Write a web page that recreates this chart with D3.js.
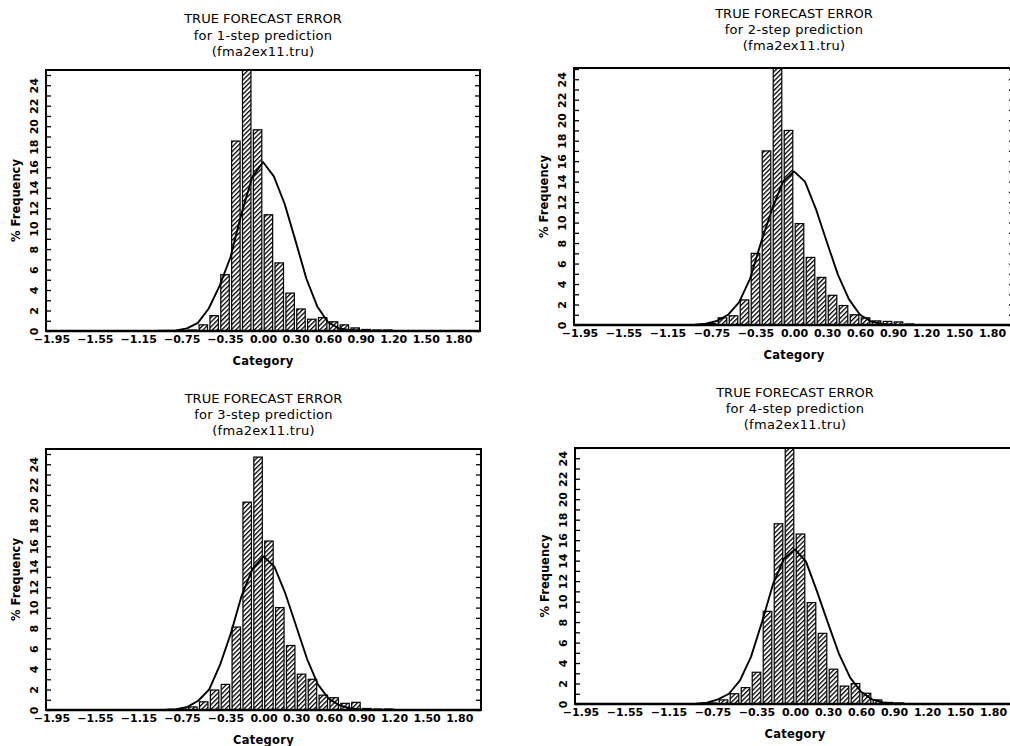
<!DOCTYPE html>
<html>
<head>
<meta charset="utf-8">
<script src="https://cdn.jsdelivr.net/npm/d3@7"></script>
<style>
  body { margin: 0; background: #fff; }
  svg { display: block; }
  text { font-family: "DejaVu Sans", sans-serif; fill: #000; }
</style>
</head>
<body>
<svg id="chart" width="1010" height="746"></svg>
<script>
"use strict";

// bin midpoints (width 0.1) and % frequency of each of the 4 histograms
var binMids = [-0.75, -0.65, -0.55, -0.45, -0.35, -0.25, -0.15, -0.05, 0.05, 0.15,
               0.25, 0.35, 0.45, 0.55, 0.65, 0.75, 0.85, 0.95, 1.05, 1.15];
var freq1 = [0.05, 0.1, 0.6, 1.5, 5.5, 18.55, 26, 19.65, 11.35, 6.65,
             3.7, 2.15, 1.15, 1.3, 0.9, 0.6, 0.3, 0.15, 0.1, 0.1];
var freq2 = [0.15, 0.7, 0.9, 2.45, 7.0, 17.0, 26, 19.0, 9.9, 6.6,
             4.65, 2.9, 1.9, 1.0, 0.7, 0.4, 0.35, 0.3, 0.1, 0];
var freq3 = [0.1, 0.3, 0.8, 1.95, 2.5, 8.1, 20.3, 24.7, 16.5, 10.0,
             6.3, 3.5, 3.0, 1.45, 1.2, 0.65, 0.75, 0.15, 0.1, 0.1];
var freq4 = [0.1, 0.4, 1.0, 1.6, 3.1, 9.05, 17.6, 26, 16.6, 9.9,
             6.9, 3.4, 1.75, 2.0, 1.05, 0.4, 0.15, 0.1, 0, 0];

// fitted normal curve
var curveX = [-2.0, -1.0, -0.9, -0.8, -0.7, -0.6, -0.5, -0.4, -0.3, -0.2, -0.1, 0.0,
              0.1, 0.2, 0.3, 0.4, 0.5, 0.6, 0.7, 0.8, 0.9, 1.0, 2.0];
var curve1 = [0, 0, 0.02, 0.05, 0.25, 0.8, 2.2, 4.4, 7.2, 11.4, 15.0, 16.5,
              15.1, 12.4, 8.8, 5.1, 2.4, 0.85, 0.25, 0.1, 0.03, 0, 0];
var curve2 = [0, 0, 0.03, 0.12, 0.4, 1.0, 2.2, 4.5, 8.05, 11.3, 14.0, 15.0,
              14.0, 11.3, 8.05, 4.9, 2.5, 1.0, 0.35, 0.1, 0.03, 0, 0];
var curve3 = [0, 0, 0.02, 0.08, 0.3, 0.9, 2.0, 4.4, 7.5, 11.2, 13.8, 15.0,
              14.0, 11.4, 8.2, 5.0, 2.5, 1.1, 0.45, 0.15, 0.05, 0, 0];
var curve4 = [0, 0, 0.04, 0.12, 0.45, 1.0, 2.3, 4.6, 8.0, 11.7, 14.2, 15.1,
              13.9, 11.0, 7.9, 4.9, 2.6, 1.2, 0.45, 0.15, 0.05, 0, 0];

var xTicks = [-1.95, -1.55, -1.15, -0.75, -0.35, 0.00, 0.30, 0.60, 0.90, 1.20, 1.50, 1.80];
var yLabelTicks = [0, 2, 4, 6, 8, 10, 12, 14, 16, 18, 20, 22, 24];
var titleLine1 = "TRUE FORECAST ERROR";
var titleLine3 = "(fma2ex11.tru)";
var xTitle = "Category";
var yTitle = "% Frequency";

var panels = [
  {step: 1, freq: freq1, curve: curve1, left: 46,  right: 480,  top: 70,  zero: 331, titleY: [23, 39.5, 56]},
  {step: 2, freq: freq2, curve: curve2, left: 574, right: 1014, top: 68,  zero: 325, titleY: [18, 34, 50]},
  {step: 3, freq: freq3, curve: curve3, left: 46,  right: 481,  top: 449, zero: 710, titleY: [403, 418.5, 434.5]},
  {step: 4, freq: freq4, curve: curve4, left: 575, right: 1015, top: 448, zero: 704, titleY: [397, 413, 429]}
];

var svg = d3.select("#chart");
var defs = svg.append("defs");

defs.append("pattern")
  .attr("id", "hatch")
  .attr("patternUnits", "userSpaceOnUse")
  .attr("width", 3.3)
  .attr("height", 3.3)
  .attr("patternTransform", "rotate(45)")
  .append("line")
  .attr("x1", 0.65).attr("y1", 0)
  .attr("x2", 0.65).attr("y2", 3.3)
  .attr("stroke", "#000")
  .attr("stroke-width", 1.3);

panels.forEach(function(p, i){

  var pxPerUnit = 10.24;
  var yMax = (p.zero - p.top) / pxPerUnit;

  var xScale = d3.scaleLinear().domain([-2, 2]).range([p.left, p.right]);
  var yScale = d3.scaleLinear().domain([0, yMax]).range([p.zero, p.top]);

  var g = svg.append("g");

  defs.append("clipPath")
    .attr("id", "clip" + i)
    .append("rect")
    .attr("x", p.left).attr("y", p.top)
    .attr("width", p.right - p.left).attr("height", p.zero - p.top);

  var plot = g.append("g").attr("clip-path", "url(#clip" + i + ")");

  var bins = binMids.map(function(m, k){ return {mid: m, value: p.freq[k]}; })
    .filter(function(d){ return d.value > 0; });

  var half = 0.039;
  plot.selectAll("rect.bar")
    .data(bins)
    .enter()
    .append("rect")
    .attr("class", "bar")
    .attr("x", function(d){ return xScale(d.mid - half); })
    .attr("width", function(d){ return xScale(d.mid + half) - xScale(d.mid - half); })
    .attr("y", function(d){ return yScale(d.value); })
    .attr("height", function(d){ return yScale(0) - yScale(d.value); })
    .attr("fill", "url(#hatch)")
    .attr("stroke", "#000")
    .attr("stroke-width", 1.2);

  var pts = curveX.map(function(x, k){ return [x, p.curve[k]]; });
  var line = d3.line()
    .x(function(d){ return xScale(d[0]); })
    .y(function(d){ return yScale(d[1]); });

  plot.append("path")
    .attr("d", line(pts))
    .attr("fill", "none")
    .attr("stroke", "#000")
    .attr("stroke-width", 1.9)
    .attr("stroke-linejoin", "round");

  // minor ticks on both sides, pointing in
  var minor = d3.range(0, Math.floor(yMax) + 1);
  g.append("g")
    .attr("transform", "translate(" + p.left + ",0)")
    .call(d3.axisLeft(yScale).tickValues(minor).tickSize(-5).tickFormat(""))
    .call(function(a){ a.select(".domain").remove(); })
    .selectAll("line").attr("stroke-width", 1.3);

  g.append("g")
    .attr("transform", "translate(" + p.right + ",0)")
    .call(d3.axisRight(yScale).tickValues(minor).tickSize(-5).tickFormat(""))
    .call(function(a){ a.select(".domain").remove(); })
    .selectAll("line").attr("stroke-width", 1.3);

  // y labels, turned on their side
  var yAx = g.append("g")
    .attr("transform", "translate(" + p.left + ",0)")
    .call(d3.axisLeft(yScale).tickValues(yLabelTicks).tickSize(0).tickFormat(d3.format("d")));
  yAx.select(".domain").remove();
  yAx.selectAll("text")
    .attr("x", null)
    .attr("transform", "translate(-12,0) rotate(-90)")
    .attr("dy", "0.36em")
    .attr("text-anchor", "middle")
    .style("font-size", "11px")
    .style("font-weight", "bold");

  var xAx = g.append("g")
    .attr("transform", "translate(0," + p.zero + ")")
    .call(d3.axisBottom(xScale).tickValues(xTicks).tickSize(0).tickPadding(4).tickFormat(d3.format(".2f")));
  xAx.select(".domain").remove();
  xAx.selectAll("text")
    .style("font-size", "11px")
    .style("font-weight", "bold");

  // frame
  g.append("rect")
    .attr("x", p.left).attr("y", p.top)
    .attr("width", p.right - p.left).attr("height", p.zero - p.top)
    .attr("fill", "none")
    .attr("stroke", "#000")
    .attr("stroke-width", 2);

  g.append("line")
    .attr("x1", p.left).attr("x2", p.right)
    .attr("y1", p.zero).attr("y2", p.zero)
    .attr("stroke", "#000")
    .attr("stroke-width", 2.6);

  var cx = (p.left + p.right) / 2;
  var lines = [titleLine1, "for " + p.step + "-step prediction", titleLine3];
  lines.forEach(function(t, k){
    g.append("text")
      .attr("x", cx).attr("y", p.titleY[k])
      .attr("text-anchor", "middle")
      .style("font-size", "13px")
      .style("letter-spacing", k === 0 ? "0px" : "0.3px")
      .text(t);
  });

  g.append("text")
    .attr("x", cx).attr("y", p.zero + 34)
    .attr("text-anchor", "middle")
    .style("font-size", "11.5px")
    .style("font-weight", "bold")
    .style("letter-spacing", "0.3px")
    .text(xTitle);

  g.append("text")
    .attr("transform", "translate(" + (p.left - 30) + "," + ((p.top + p.zero) / 2) + ") rotate(-90)")
    .attr("dy", "0.36em")
    .attr("text-anchor", "middle")
    .style("font-size", "11.5px")
    .style("font-weight", "bold")
    .text(yTitle);
});
</script>
</body>
</html>
